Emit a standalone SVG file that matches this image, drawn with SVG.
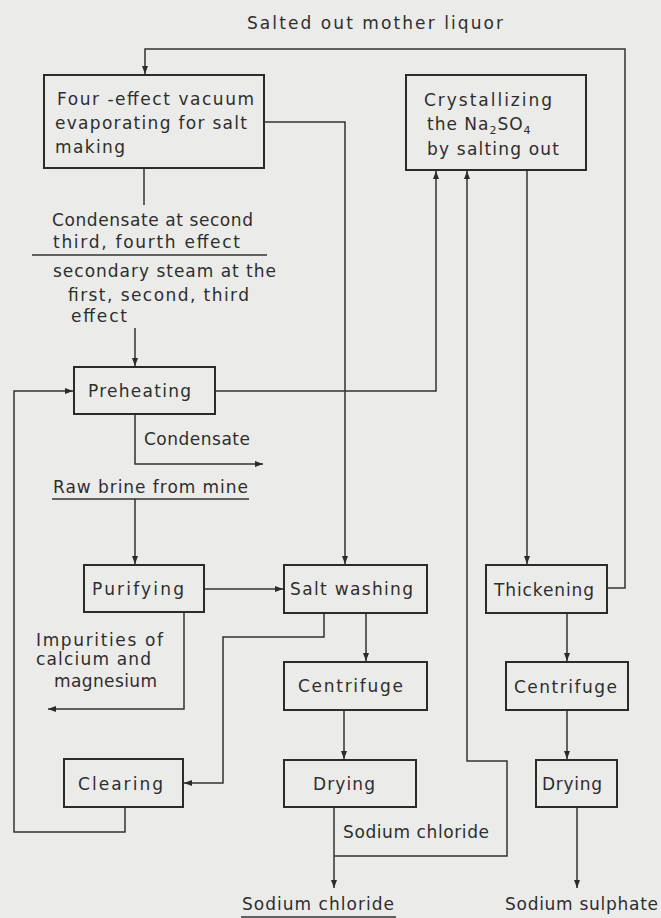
<svg xmlns="http://www.w3.org/2000/svg" width="661" height="918" viewBox="0 0 661 918">
<style>
.bg{fill:#ebebea}
.box{fill:none;stroke:#2b2b2b;stroke-width:2}
.ln{fill:none;stroke:#333;stroke-width:1.5}
.t{font-family:"DejaVu Sans","Liberation Sans",sans-serif;font-size:17px;fill:#2e2e2e}
.sub{font-size:11px}
</style>
<defs>
<marker id="ah" markerUnits="userSpaceOnUse" markerWidth="10" markerHeight="10" refX="8" refY="4" orient="auto">
<path d="M0,1 L8,4 L0,7 Z" fill="#2b2b2b"/>
</marker>
</defs>
<rect class="bg" x="0" y="0" width="661" height="918"/>

<g id="connectors">
<path class="ln" d="M607,588 H625 V49 H145 V74" marker-end="url(#ah)"/>
<path class="ln" d="M264,122 H345 V564" marker-end="url(#ah)"/>
<path class="ln" d="M144,168 V205"/>
<path class="ln" d="M135,328 V366" marker-end="url(#ah)"/>
<path class="ln" d="M215,391 H436 V171" marker-end="url(#ah)"/>
<path class="ln" d="M135,414 V464 H263" marker-end="url(#ah)"/>
<path class="ln" d="M135,499 V564" marker-end="url(#ah)"/>
<path class="ln" d="M204,589 H283" marker-end="url(#ah)"/>
<path class="ln" d="M184,612 V709 H48" marker-end="url(#ah)"/>
<path class="ln" d="M324,613 V637 H223 V783 H184" marker-end="url(#ah)"/>
<path class="ln" d="M366,613 V661" marker-end="url(#ah)"/>
<path class="ln" d="M344,710 V759" marker-end="url(#ah)"/>
<path class="ln" d="M334,807 V888" marker-end="url(#ah)"/>
<path class="ln" d="M334,856 H507 V761 H467 V171" marker-end="url(#ah)"/>
<path class="ln" d="M125,807 V832 H14 V391 H73" marker-end="url(#ah)"/>
<path class="ln" d="M527,170 V564" marker-end="url(#ah)"/>
<path class="ln" d="M567,613 V661" marker-end="url(#ah)"/>
<path class="ln" d="M567,710 V759" marker-end="url(#ah)"/>
<path class="ln" d="M577,807 V888" marker-end="url(#ah)"/>
</g>

<g id="labels">
<text class="t" x="247" y="29" textLength="256" lengthAdjust="spacing">Salted out mother liquor</text>
<text class="t" x="52" y="226" textLength="201" lengthAdjust="spacing">Condensate at second</text>
<text class="t" x="53" y="248" textLength="187" lengthAdjust="spacing">third, fourth effect</text>
<path class="ln" d="M32,255 H267"/>
<text class="t" x="53" y="277" textLength="223" lengthAdjust="spacing">secondary steam at the</text>
<text class="t" x="68" y="301" textLength="181" lengthAdjust="spacing">first, second, third</text>
<text class="t" x="71" y="322" textLength="56" lengthAdjust="spacing">effect</text>
<text class="t" x="144" y="445" textLength="106" lengthAdjust="spacing">Condensate</text>
<text class="t" x="53" y="493" textLength="195" lengthAdjust="spacing">Raw brine from mine</text>
<path class="ln" d="M52,499 H249"/>
<text class="t" x="36" y="646" textLength="127" lengthAdjust="spacing">Impurities of</text>
<text class="t" x="36" y="665" textLength="115" lengthAdjust="spacing">calcium and</text>
<text class="t" x="54" y="687" textLength="103" lengthAdjust="spacing">magnesium</text>
<text class="t" x="343" y="838" textLength="146" lengthAdjust="spacing">Sodium chloride</text>
<text class="t" x="242" y="910" textLength="152" lengthAdjust="spacing">Sodium chloride</text>
<path class="ln" d="M241,917 H396"/>
<text class="t" x="505" y="910" textLength="153" lengthAdjust="spacing">Sodium sulphate</text>
</g>

<g id="n-evaporating">
<rect class="box" x="44" y="75" width="220" height="93"/>
<text class="t" x="57" y="105" textLength="197" lengthAdjust="spacing">Four -effect vacuum</text>
<text class="t" x="55" y="129" textLength="192" lengthAdjust="spacing">evaporating for salt</text>
<text class="t" x="55" y="153" textLength="70" lengthAdjust="spacing">making</text>
</g>

<g id="n-crystallizing">
<rect class="box" x="406" y="75" width="180" height="95"/>
<text class="t" x="424" y="106" textLength="128" lengthAdjust="spacing">Crystallizing</text>
<text class="t" x="427" y="130" letter-spacing="1">the Na<tspan class="sub" dy="4">2</tspan><tspan dy="-4">SO</tspan><tspan class="sub" dy="4">4</tspan></text>
<text class="t" x="427" y="155" textLength="132" lengthAdjust="spacing">by salting out</text>
</g>

<g id="n-preheating">
<rect class="box" x="74" y="367" width="141" height="47"/>
<text class="t" x="88" y="397" textLength="103" lengthAdjust="spacing">Preheating</text>
</g>

<g id="n-purifying">
<rect class="box" x="84" y="565" width="120" height="47"/>
<text class="t" x="92" y="595" textLength="92" lengthAdjust="spacing">Purifying</text>
</g>

<g id="n-saltwashing">
<rect class="box" x="284" y="565" width="143" height="48"/>
<text class="t" x="290" y="595" textLength="123" lengthAdjust="spacing">Salt washing</text>
</g>

<g id="n-thickening">
<rect class="box" x="486" y="565" width="121" height="48"/>
<text class="t" x="494" y="596" textLength="100" lengthAdjust="spacing">Thickening</text>
</g>

<g id="n-centrifuge1">
<rect class="box" x="284" y="662" width="143" height="48"/>
<text class="t" x="298" y="692" textLength="105" lengthAdjust="spacing">Centrifuge</text>
</g>

<g id="n-centrifuge2">
<rect class="box" x="506" y="662" width="122" height="48"/>
<text class="t" x="514" y="693" textLength="103" lengthAdjust="spacing">Centrifuge</text>
</g>

<g id="n-clearing">
<rect class="box" x="64" y="759" width="119" height="48"/>
<text class="t" x="78" y="790" textLength="85" lengthAdjust="spacing">Clearing</text>
</g>

<g id="n-drying1">
<rect class="box" x="284" y="760" width="132" height="47"/>
<text class="t" x="313" y="790" textLength="62" lengthAdjust="spacing">Drying</text>
</g>

<g id="n-drying2">
<rect class="box" x="536" y="760" width="81" height="47"/>
<text class="t" x="542" y="790" textLength="60" lengthAdjust="spacing">Drying</text>
</g>
</svg>
